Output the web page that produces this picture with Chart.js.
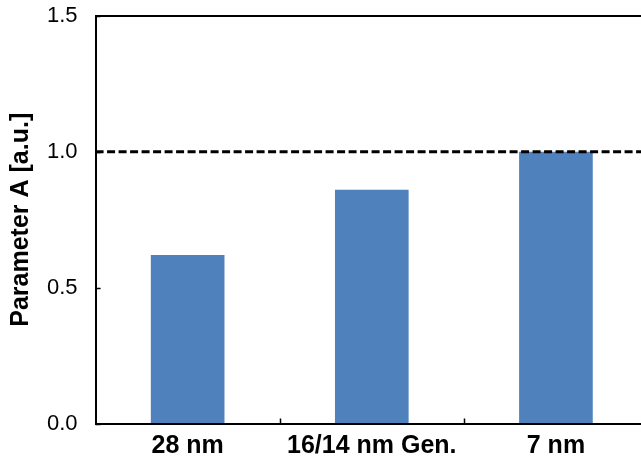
<!DOCTYPE html>
<html>
<head>
<meta charset="utf-8">
<script src="https://cdn.jsdelivr.net/npm/chart.js@4"></script>
<style>
  html, body { margin: 0; padding: 0; overflow: hidden; background: #fff; }
  #wrap { width: 660px; height: 460px; }
</style>
</head>
<body>
<div id="wrap"><canvas id="myChart" width="660" height="460"></canvas></div>
<script>
const categories = ["28 nm", "16/14 nm Gen.", "7 nm"];
const paramA = [0.62, 0.86, 1.0];
const yTicks = [0, 0.5, 1.0, 1.5];
const refLevel = 1.0;

// top frame, inside tick marks and dashed reference line
const extras = {
  id: "extras",
  afterDatasetsDraw(chart) {
    const { ctx, chartArea } = chart;
    const xs = chart.scales.x;
    const ys = chart.scales.y;
    ctx.save();
    ctx.strokeStyle = "#000";
    ctx.lineWidth = 2;
    ctx.beginPath();
    ctx.moveTo(chartArea.left, chartArea.top);
    ctx.lineTo(chartArea.right, chartArea.top);
    ctx.stroke();

    ctx.lineWidth = 1.5;
    ctx.beginPath();
    yTicks.forEach((v) => {
      const y = Math.round(ys.getPixelForValue(v)) + 0.5;
      ctx.moveTo(chartArea.left, y);
      ctx.lineTo(chartArea.left + 5, y);
    });
    for (let i = 1; i < categories.length; i++) {
      const x = Math.round((xs.getPixelForValue(i - 1) + xs.getPixelForValue(i)) / 2) + 0.5;
      ctx.moveTo(x, chartArea.bottom);
      ctx.lineTo(x, chartArea.bottom - 5);
    }
    ctx.stroke();

    const y = ys.getPixelForValue(refLevel);
    ctx.lineWidth = 3;
    ctx.setLineDash([8, 3.5]);
    ctx.beginPath();
    ctx.moveTo(chartArea.left, y);
    ctx.lineTo(chartArea.right, y);
    ctx.stroke();
    ctx.restore();
  },
};

new Chart(document.getElementById("myChart"), {
  type: "bar",
  data: {
    labels: categories,
    datasets: [
      {
        data: paramA,
        backgroundColor: "#4F81BD",
        categoryPercentage: 1,
        barPercentage: 0.4,
      },
    ],
  },
  options: {
    responsive: false,
    animation: false,
    layout: { padding: { top: 16, right: 12, left: 2, bottom: 0 } },
    plugins: { legend: { display: false }, tooltip: { enabled: false } },
    scales: {
      x: {
        grid: {
          offset: true,
          drawOnChartArea: false,
          tickLength: 9,
          tickColor: "rgba(0,0,0,0)",
        },
        border: { color: "#000", width: 2 },
        ticks: {
          color: "#000",
          padding: 0,
          font: { family: "Liberation Sans", size: 25, weight: "bold", lineHeight: 1.1 },
        },
      },
      y: {
        min: 0,
        max: 1.5,
        afterBuildTicks: (axis) => {
          axis.ticks = yTicks.map((v) => ({ value: v }));
        },
        grid: {
          drawOnChartArea: false,
          tickLength: 18,
          tickColor: "rgba(0,0,0,0)",
        },
        border: { color: "#000", width: 2 },
        ticks: {
          color: "#000",
          padding: 0,
          font: { family: "Liberation Sans", size: 22 },
          callback: (v) => Number(v).toFixed(1),
        },
        title: {
          display: true,
          text: "Parameter A [a.u.]",
          color: "#000",
          padding: { top: 4, bottom: 11 },
          font: { family: "Liberation Sans", size: 25, weight: "bold" },
        },
      },
    },
  },
  plugins: [extras],
});
</script>
</body>
</html>
